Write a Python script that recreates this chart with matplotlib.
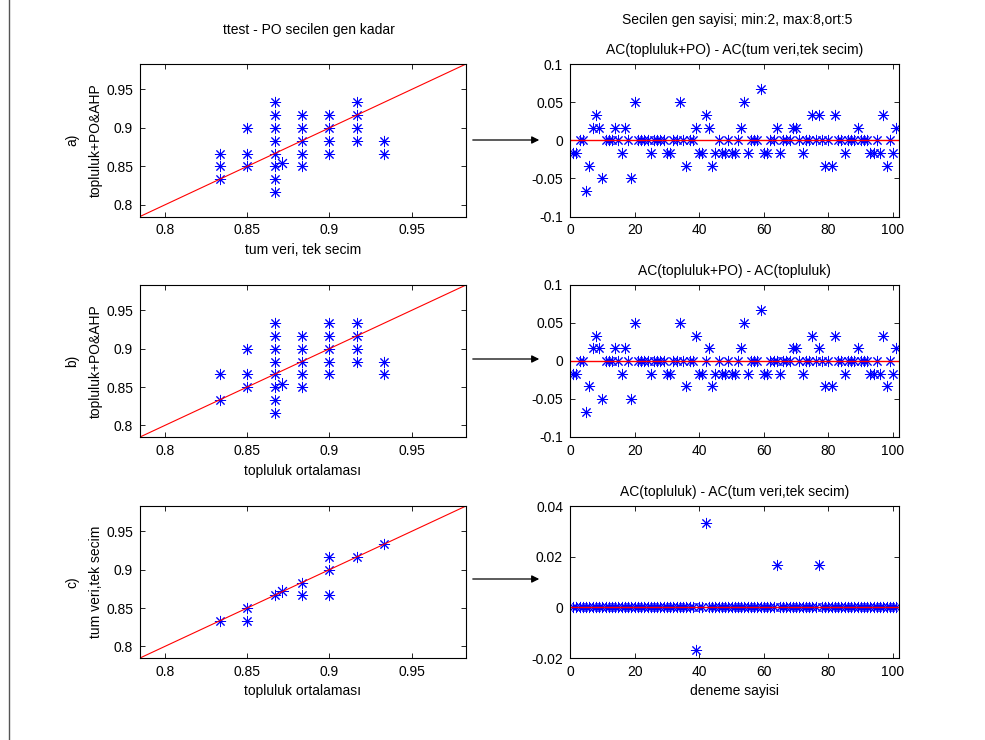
import numpy as np
import matplotlib
matplotlib.use("Agg")
import matplotlib.pyplot as plt
from matplotlib.lines import Line2D
from matplotlib.patches import FancyArrowPatch

plt.rcParams["font.family"] = ["Liberation Sans", "DejaVu Sans"]
plt.rcParams["font.size"] = 10

# test setinde 60 ornek var; farklar dogru siniflanan ornek sayisi olarak
ornek_sayisi = 60
deneme = np.arange(1, 102)

# AC(topluluk+PO) - AC(tum veri,tek secim)
fark_tp_tv = [-1, -1, 0, 0, -4, -2, 1, 2, 1, -3,
              0, 0, 0, 1, 0, -1, 1, 0, -3, 3,
              0, 0, 0, 0, -1, 0, 0, 0, 0, -1,
              -1, 0, 0, 3, 0, -2, 0, 0, 1, -1,
              -1, 2, 1, -2, -1, 0, -1, -1, 0, -1,
              -1, 0, 1, 3, -1, 0, 0, 0, 4, -1,
              -1, 0, 0, 1, -1, 0, 0, 0, 1, 1,
              0, -1, 0, 0, 2, 0, 2, 0, -2, 0,
              -2, 2, 0, 0, -1, 0, 0, 0, 1, 0,
              0, 0, -1, -1, 0, -1, 2, -2, 0, -1,
              1]

# AC(topluluk+PO) - AC(topluluk)
fark_tp_t = [-1, -1, 0, 0, -4, -2, 1, 2, 1, -3,
             0, 0, 0, 1, 0, -1, 1, 0, -3, 3,
             0, 0, 0, 0, -1, 0, 0, 0, 0, -1,
             -1, 0, 0, 3, 0, -2, 0, 0, 2, -1,
             -1, 0, 1, -2, -1, 0, -1, -1, 0, -1,
             -1, 0, 1, 3, -1, 0, 0, 0, 4, -1,
             -1, 0, 0, 0, -1, 0, 0, 0, 1, 1,
             0, -1, 0, 0, 2, 0, 1, 0, -2, 0,
             -2, 2, 0, 0, -1, 0, 0, 0, 1, 0,
             0, 0, -1, -1, 0, -1, 2, -2, 0, -1,
             1]

# AC(topluluk) - AC(tum veri,tek secim)
fark_t_tv = [0, 0, 0, 0, 0, 0, 0, 0, 0, 0,
             0, 0, 0, 0, 0, 0, 0, 0, 0, 0,
             0, 0, 0, 0, 0, 0, 0, 0, 0, 0,
             0, 0, 0, 0, 0, 0, 0, 0, -1, 0,
             0, 2, 0, 0, 0, 0, 0, 0, 0, 0,
             0, 0, 0, 0, 0, 0, 0, 0, 0, 0,
             0, 0, 0, 1, 0, 0, 0, 0, 0, 0,
             0, 0, 0, 0, 0, 0, 1, 0, 0, 0,
             0, 0, 0, 0, 0, 0, 0, 0, 0, 0,
             0, 0, 0, 0, 0, 0, 0, 0, 0, 0,
             0]

# a) tum veri, tek secim  vs  topluluk+PO&AHP
a_x = [0.8333, 0.8333, 0.8333,
       0.85, 0.85, 0.85,
       0.8667, 0.8667, 0.8667, 0.8667, 0.8667, 0.8667, 0.8667, 0.8667,
       0.8833, 0.8833, 0.8833, 0.8833, 0.8833,
       0.9, 0.9, 0.9, 0.9,
       0.9167, 0.9167, 0.9167, 0.9167,
       0.9333, 0.9333]
a_y = [0.8667, 0.85, 0.8333,
       0.9, 0.8667, 0.85,
       0.9333, 0.9167, 0.9, 0.8833, 0.8667, 0.85, 0.8333, 0.8167,
       0.9167, 0.9, 0.8833, 0.8667, 0.85,
       0.9167, 0.9, 0.8833, 0.8667,
       0.9333, 0.9167, 0.9, 0.8833,
       0.8833, 0.8667]
a_ort = (0.8712, 0.8546)

# b) topluluk ortalamasi  vs  topluluk+PO&AHP
b_x = [0.8333, 0.8333,
       0.85, 0.85, 0.85,
       0.8667, 0.8667, 0.8667, 0.8667, 0.8667, 0.8667, 0.8667, 0.8667,
       0.8833, 0.8833, 0.8833, 0.8833, 0.8833,
       0.9, 0.9, 0.9, 0.9, 0.9,
       0.9167, 0.9167, 0.9167, 0.9167,
       0.9333, 0.9333]
b_y = [0.8667, 0.8333,
       0.9, 0.8667, 0.85,
       0.9333, 0.9167, 0.9, 0.8833, 0.8667, 0.85, 0.8333, 0.8167,
       0.9167, 0.9, 0.8833, 0.8667, 0.85,
       0.9333, 0.9167, 0.9, 0.8833, 0.8667,
       0.9333, 0.9167, 0.9, 0.8833,
       0.8833, 0.8667]
b_ort = (0.8712, 0.8540)

# c) topluluk ortalamasi  vs  tum veri, tek secim
c_x = [0.8333, 0.85, 0.85, 0.8667, 0.8833, 0.8833, 0.9, 0.9, 0.9, 0.9167, 0.9333]
c_y = [0.8333, 0.85, 0.8333, 0.8667, 0.8833, 0.8667, 0.9167, 0.9, 0.8667, 0.9167, 0.9333]
c_ort = (0.8712, 0.8718)

sol_lim = (0.785, 0.983)
sol_ticks = [0.8, 0.85, 0.9, 0.95]
sol_ticklabels = ["0.8", "0.85", "0.9", "0.95"]
sag_xticks = [0, 20, 40, 60, 80, 100]
sag_yticks_ab = [-0.1, -0.05, 0, 0.05, 0.1]
sag_yticklabels_ab = ["-0.1", "-0.05", "0", "0.05", "0.1"]
sag_yticks_c = [-0.02, 0, 0.02, 0.04]
sag_yticklabels_c = ["-0.02", "0", "0.02", "0.04"]

asterisk = (8, 2, 0)
mavi = (0, 0, 1)

W, H = 985.0, 740.0
fig = plt.figure(figsize=(W / 100, H / 100), dpi=100)
fig.patch.set_facecolor("white")


def rect(x0, top, x1, bottom):
    return [x0 / W, 1 - bottom / H, (x1 - x0) / W, (bottom - top) / H]


def stil(ax):
    for s in ax.spines.values():
        s.set_linewidth(0.8)
    ax.tick_params(direction="in", length=3.5, width=0.6, top=True, right=True,
                   labelsize=10, pad=5)


def sol_panel(r, xs, ys, ort, xlabel, ylabel):
    ax = fig.add_axes(r)
    ax.plot(xs, ys, linestyle="none", marker=asterisk, ms=8, mew=0.7, color=mavi)
    ax.plot([ort[0]], [ort[1]], linestyle="none", marker=asterisk, ms=9, mew=0.7, color=mavi)
    ax.plot(sol_lim, sol_lim, color="red", lw=0.8)
    ax.set_xlim(sol_lim)
    ax.set_ylim(sol_lim)
    ax.set_xticks(sol_ticks)
    ax.set_xticklabels(sol_ticklabels)
    ax.set_yticks(sol_ticks)
    ax.set_yticklabels(sol_ticklabels)
    ax.set_xlabel(xlabel, labelpad=4)
    ax.set_ylabel(ylabel, labelpad=2, linespacing=1.9)
    stil(ax)
    return ax


def sag_panel(r, farklar, title, yticks, yticklabels, ylim, xlabel=None):
    ax = fig.add_axes(r)
    degerler = np.array(farklar) / ornek_sayisi
    ax.plot(deneme, degerler, linestyle="none", marker=asterisk, ms=8, mew=0.7, color=mavi)
    ax.axhline(0, color="red", lw=1.0)
    ax.set_xlim(0, 102)
    ax.set_ylim(ylim)
    ax.set_xticks(sag_xticks)
    ax.set_yticks(yticks)
    ax.set_yticklabels(yticklabels)
    ax.set_title(title, fontsize=10, pad=7)
    if xlabel:
        ax.set_xlabel(xlabel, labelpad=4)
    stil(ax)
    return ax


satirlar = [(64, 216.5), (285, 437), (506, 658)]

sol_panel(rect(140, satirlar[0][0], 466, satirlar[0][1]), a_x, a_y, a_ort,
          "tum veri, tek secim", "a)\ntopluluk+PO&AHP")
sol_panel(rect(140, satirlar[1][0], 466, satirlar[1][1]), b_x, b_y, b_ort,
          "topluluk ortalaması", "b)\ntopluluk+PO&AHP")
sol_panel(rect(140, satirlar[2][0], 466, satirlar[2][1]), c_x, c_y, c_ort,
          "topluluk ortalaması", "c)\ntum veri,tek secim")

sag_panel(rect(570, satirlar[0][0], 899.5, satirlar[0][1]), fark_tp_tv,
          "AC(topluluk+PO) - AC(tum veri,tek secim)", sag_yticks_ab, sag_yticklabels_ab, (-0.1, 0.1))
sag_panel(rect(570, satirlar[1][0], 899.5, satirlar[1][1]), fark_tp_t,
          "AC(topluluk+PO) - AC(topluluk)", sag_yticks_ab, sag_yticklabels_ab, (-0.1, 0.1))
sag_panel(rect(570, satirlar[2][0], 899.5, satirlar[2][1]), fark_t_tv,
          "AC(topluluk) - AC(tum veri,tek secim)", sag_yticks_c, sag_yticklabels_c, (-0.02, 0.04),
          xlabel="deneme sayisi")

fig.text(309 / W, 1 - 30 / H, "ttest - PO secilen gen kadar", ha="center", va="center", fontsize=10)
fig.text(737 / W, 1 - 20 / H, "Secilen gen sayisi; min:2, max:8,ort:5", ha="center", va="center",
         fontsize=10)

# oklar
for y in (140, 359, 579):
    fig.add_artist(FancyArrowPatch(
        (470 / W, 1 - y / H), (542 / W, 1 - y / H), transform=fig.transFigure,
        arrowstyle="-|>", mutation_scale=11, lw=0.9, color="black"))

# pencere kenari
fig.add_artist(Line2D([8.5 / W, 8.5 / W], [0, 1], transform=fig.transFigure, color="#555555", lw=1))

fig.savefig("out.png", dpi=100)
